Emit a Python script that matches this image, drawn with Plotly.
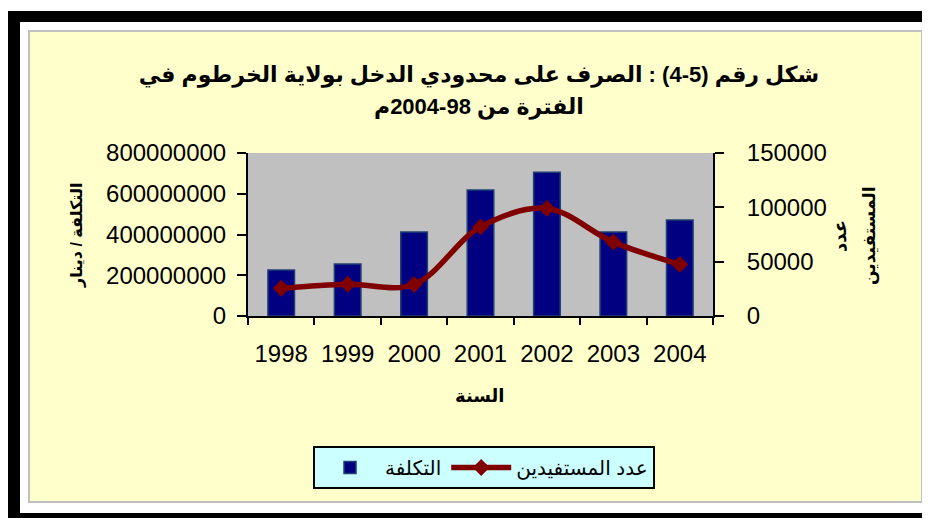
import plotly.graph_objects as go

years = ["1998", "1999", "2000", "2001", "2002", "2003", "2004"]
cost = [226000000, 255000000, 412000000, 618000000, 705000000, 412000000, 471000000]
beneficiaries = [25500, 29200, 29000, 82000, 99000, 68000, 47500]

title_l1 = "شكل رقم (5-4) : الصرف على محدودي الدخل بولاية الخرطوم في"
title_l2 = "الفترة من 98-2004م"
name_cost = "التكلفة"
name_ben = "عدد المستفيدين"
ytitle_left = "التكلفة / دينار"
ytitle_right_1 = "عدد"
ytitle_right_2 = "المستفيدين"
xtitle = "السنة"

OFF = 8                      # browser body margin
W, H = 930, 518              # page size
FW, FH = W - OFF, H - OFF    # figure size
L, R, T, B = 248, 713, 153, 316   # plot area, page pixels
pw, ph = R - L, B - T

def px(x):
    return (x - L) / pw

def py(y):
    return (B - y) / ph

FONT = "Arial, Liberation Sans, DejaVu Sans, sans-serif"
TICKFONT = dict(family=FONT, size=24, color="black")

fig = go.Figure()
fig.add_trace(go.Bar(
    x=years, y=cost, name=name_cost,
    marker=dict(color="#000080", line=dict(color="#1f4070", width=1.5)),
    width=0.4, yaxis="y",
))
fig.add_trace(go.Scatter(
    x=years, y=beneficiaries, name=name_ben, yaxis="y2",
    mode="lines+markers",
    line=dict(color="#800000", width=5.5, shape="spline", smoothing=1),
    marker=dict(symbol="diamond", size=13, color="#800000"),
))

shapes = [
    dict(type="rect", xref="paper", yref="paper",
         x0=px(8), x1=px(940), y0=py(11), y1=py(530),
         fillcolor="black", line=dict(width=0), layer="below"),
    dict(type="rect", xref="paper", yref="paper",
         x0=px(20), x1=px(940), y0=py(22), y1=py(513),
         fillcolor="white", line=dict(width=0), layer="below"),
    dict(type="rect", xref="paper", yref="paper",
         x0=px(29), x1=px(922), y0=py(31), y1=py(502),
         fillcolor="#FFFFCC", line=dict(color="#C0C0C0", width=2), layer="below"),
    dict(type="rect", xref="paper", yref="paper",
         x0=0, x1=1, y0=0, y1=1,
         fillcolor="#C0C0C0", line=dict(width=0), layer="below"),
]

annotations = [
    dict(text="<b>%s</b>" % title_l2, xref="paper", yref="paper",
         x=px(479), y=py(107), showarrow=False,
         xanchor="center", yanchor="middle",
         font=dict(family=FONT, size=22, color="black")),
    dict(text="<b>%s</b>" % ytitle_left, xref="paper", yref="paper",
         x=px(77), y=py(236), textangle=-90, showarrow=False,
         xanchor="center", yanchor="middle",
         font=dict(family=FONT, size=16, color="black")),
    dict(text="<b>%s</b>" % ytitle_right_1, xref="paper", yref="paper",
         x=px(840), y=py(236), textangle=-90, showarrow=False,
         xanchor="center", yanchor="middle",
         font=dict(family=FONT, size=18, color="black")),
    dict(text="<b>%s</b>" % ytitle_right_2, xref="paper", yref="paper",
         x=px(870), y=py(236), textangle=-90, showarrow=False,
         xanchor="center", yanchor="middle",
         font=dict(family=FONT, size=17, color="black")),
    dict(text="<b>%s</b>" % xtitle, xref="paper", yref="paper",
         x=px(480), y=py(396), showarrow=False,
         xanchor="center", yanchor="middle",
         font=dict(family=FONT, size=18, color="black")),
]

fig.update_layout(
    width=FW, height=FH,
    margin=dict(l=L - OFF, r=FW - (R - OFF), t=T - OFF, b=FH - (B - OFF), pad=0),
    paper_bgcolor="white",
    plot_bgcolor="rgba(0,0,0,0)",
    font=dict(family=FONT, color="black"),
    title=dict(text="<b>%s</b>" % title_l1,
               x=(479 - OFF) / FW, xanchor="center", xref="container",
               y=1 - (74 - OFF) / FH, yanchor="middle", yref="container",
               font=dict(family=FONT, size=22, color="black")),
    showlegend=True,
    legend=dict(orientation="h", x=px(313), xanchor="left",
                y=py(446), yanchor="top",
                bgcolor="#CCFFFF", bordercolor="black", borderwidth=2,
                font=dict(family=FONT, size=20, color="black"),
                itemwidth=60, traceorder="normal"),
    xaxis=dict(type="category", showline=True, linecolor="black", linewidth=2,
               ticks="outside", ticklen=7, tickwidth=2, tickcolor="black",
               tickson="boundaries", showgrid=False, zeroline=False,
               tickfont=TICKFONT, ticklabelstandoff=15),
    xaxis2=dict(overlaying="x", anchor="y", side="bottom",
                range=[-0.5, len(years) - 0.5], tick0=-0.5, dtick=1,
                ticks="inside", ticklen=8, tickwidth=2, tickcolor="black",
                showticklabels=False, showline=False, showgrid=False,
                zeroline=False),
    yaxis=dict(range=[0, 800000000], dtick=200000000, tickformat="d",
               showline=True, linecolor="black", linewidth=2,
               ticks="outside", ticklen=9, tickwidth=2, tickcolor="black",
               showgrid=False, zeroline=False,
               tickfont=TICKFONT, ticklabelstandoff=6),
    yaxis2=dict(range=[0, 150000], dtick=50000, tickformat="d",
                overlaying="y", side="right",
                showline=True, linecolor="black", linewidth=2,
                ticks="outside", ticklen=9, tickwidth=2, tickcolor="black",
                showgrid=False, zeroline=False,
                tickfont=TICKFONT, ticklabelstandoff=18),
    yaxis3=dict(range=[0, 800000000], dtick=200000000,
                overlaying="y", side="left", anchor="x",
                ticks="inside", ticklen=9, tickwidth=2, tickcolor="black",
                showticklabels=False, showline=False, showgrid=False,
                zeroline=False),
    yaxis4=dict(range=[0, 150000], dtick=50000,
                overlaying="y", side="right", anchor="x",
                ticks="inside", ticklen=9, tickwidth=2, tickcolor="black",
                showticklabels=False, showline=False, showgrid=False,
                zeroline=False),
    shapes=shapes,
    annotations=annotations,
)

fig.write_html("out.html")
